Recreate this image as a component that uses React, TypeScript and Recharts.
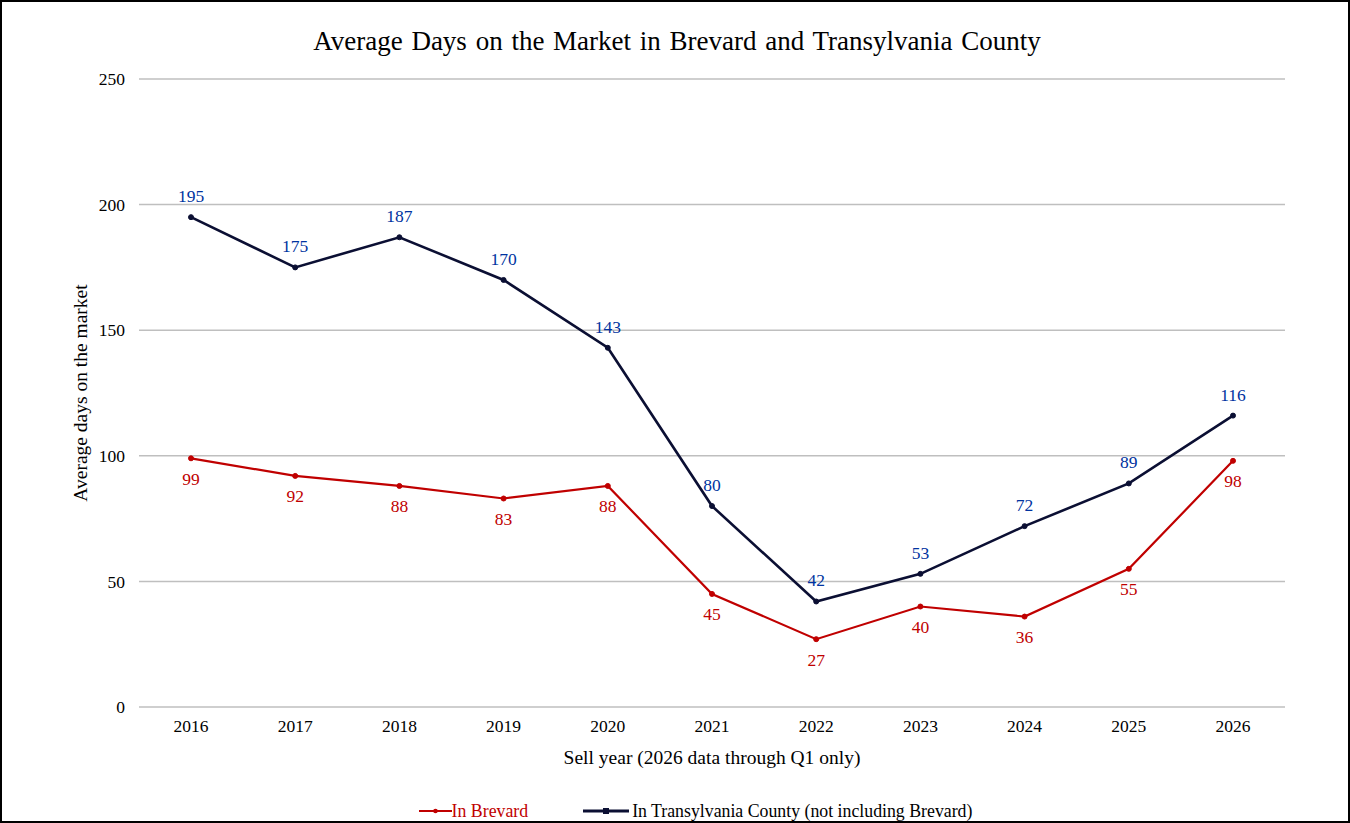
import { CartesianGrid, LabelList, Legend, Line, LineChart, XAxis, YAxis } from "recharts"

const years = ["2016", "2017", "2018", "2019", "2020", "2021", "2022", "2023", "2024", "2025", "2026"]
const brevard = [99, 92, 88, 83, 88, 45, 27, 40, 36, 55, 98]
const transylvania = [195, 175, 187, 170, 143, 80, 42, 53, 72, 89, 116]
const yTicks = [0, 50, 100, 150, 200, 250]

const RED = "#C00000"
const NAVY = "#0B0F33"
const BLUE_LABEL = "#0033A0"
const FONT = "'Liberation Serif', 'Times New Roman', serif"

const chartData = years.map((year, i) => ({
  year,
  brevard: brevard[i],
  transylvania: transylvania[i],
}))

const LegendContent = () => (
  <div
    style={{
      height: 24,
      display: "flex",
      justifyContent: "center",
      alignItems: "center",
      gap: 55,
      paddingLeft: 106,
      fontFamily: FONT,
      fontSize: 17.8,
    }}
  >
    <div style={{ display: "flex", alignItems: "center", color: RED }}>
      <svg width={33} height={10}>
        <line x1={0} y1={5} x2={33} y2={5} stroke={RED} strokeWidth={2} />
        <circle cx={16.5} cy={5} r={2.3} fill={RED} />
      </svg>
      <span>In Brevard</span>
    </div>
    <div style={{ display: "flex", alignItems: "center", color: "#000" }}>
      <svg width={49} height={10}>
        <line x1={0} y1={5} x2={46} y2={5} stroke={NAVY} strokeWidth={3} />
        <rect x={20} y={2} width={6} height={6} fill={NAVY} />
      </svg>
      <span>In Transylvania County (not including Brevard)</span>
    </div>
  </div>
)

export default function App() {
  return (
    <div
      style={{
        position: "fixed",
        left: 0,
        top: 0,
        width: 1350,
        height: 823,
        background: "#fff",
        border: "2px solid #000",
        boxSizing: "border-box",
        fontFamily: FONT,
      }}
    >
      <div
        style={{
          position: "absolute",
          top: 24,
          left: 0,
          width: 1350,
          textAlign: "center",
          fontSize: 27,
          wordSpacing: 2,
          color: "#000",
        }}
      >
        Average Days on the Market in Brevard and Transylvania County
      </div>
      <div style={{ position: "absolute", left: -2, top: -2 }}>
        <LineChart
          width={1350}
          height={823}
          data={chartData}
          margin={{ top: 79, right: 65, bottom: 0, left: 0 }}
        >
          <CartesianGrid vertical={false} stroke="#BFBFBF" strokeWidth={1.5} />
          <XAxis
            dataKey="year"
            axisLine={false}
            tickLine={false}
            tickSize={0}
            tickMargin={13}
            height={92}
            padding={{ left: 52, right: 52 }}
            tick={{ fill: "#000", fontSize: 17.5, fontFamily: FONT }}
            label={{
              value: "Sell year (2026 data through Q1 only)",
              position: "center",
              dy: 4,
              fill: "#000",
              fontSize: 19.5,
              fontFamily: FONT,
            }}
          />
          <YAxis
            domain={[0, 250]}
            ticks={yTicks}
            axisLine={false}
            tickLine={false}
            tickSize={0}
            tickMargin={14}
            width={139}
            tick={{ fill: "#000", fontSize: 17.5, fontFamily: FONT }}
            label={{
              value: "Average days on the market",
              angle: -90,
              position: "center",
              dx: 11,
              fill: "#000",
              fontSize: 19.5,
              fontFamily: FONT,
            }}
          />
          <Legend verticalAlign="bottom" content={<LegendContent />} />
          <Line
            dataKey="brevard"
            stroke={RED}
            strokeWidth={2.2}
            dot={{ r: 2.5, fill: RED, stroke: RED, strokeWidth: 1 }}
            isAnimationActive={false}
          >
            <LabelList dataKey="brevard" position="bottom" offset={14} fill={RED} fontSize={17.5} fontFamily={FONT} />
          </Line>
          <Line
            dataKey="transylvania"
            stroke={NAVY}
            strokeWidth={2.6}
            dot={{ r: 2.5, fill: NAVY, stroke: NAVY, strokeWidth: 1 }}
            isAnimationActive={false}
          >
            <LabelList dataKey="transylvania" position="top" offset={15} fill={BLUE_LABEL} fontSize={17.5} fontFamily={FONT} />
          </Line>
        </LineChart>
      </div>
    </div>
  )
}
